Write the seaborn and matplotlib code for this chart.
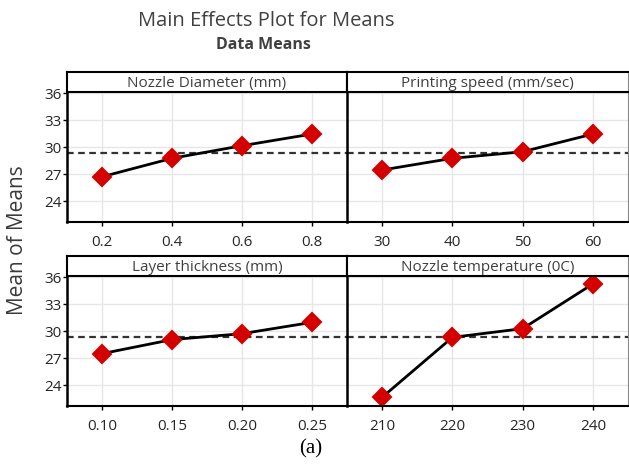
import numpy as np
import pandas as pd
import seaborn as sns
import matplotlib.pyplot as plt

sns.set_style("white")
plt.rcParams['font.family'] = ['Open Sans', 'DejaVu Sans']

# factor levels (tick labels) and mean responses
nozzle_diameter = ['0.2', '0.4', '0.6', '0.8']
nozzle_diameter_means = [26.73, 28.78, 30.18, 31.48]
printing_speed = ['30', '40', '50', '60']
printing_speed_means = [27.48, 28.78, 29.51, 31.48]
layer_thickness = ['0.10', '0.15', '0.20', '0.25']
layer_thickness_means = [27.52, 29.08, 29.74, 31.00]
nozzle_temp = ['210', '220', '230', '240']
nozzle_temp_means = [22.67, 29.33, 30.30, 35.27]
grand_mean = 29.33

titles = ['Nozzle Diameter (mm)', 'Printing speed (mm/sec)',
          'Layer thickness (mm)', 'Nozzle temperature (0C)']
levels = [nozzle_diameter, printing_speed, layer_thickness, nozzle_temp]
means = [nozzle_diameter_means, printing_speed_means,
         layer_thickness_means, nozzle_temp_means]
yticks = [24, 27, 30, 33, 36]

W, H = 629, 466
fig = plt.figure(figsize=(W / 100, H / 100), dpi=100)

def box(x0, y0, x1, y1):
    return [x0 / W, 1 - y1 / H, (x1 - x0) / W, (y1 - y0) / H]

cols = [(67, 347), (347, 628)]
rows = [(72, 92, 222), (256, 276, 406)]
txt = '#404040'

for i in range(4):
    r, c = divmod(i, 2)
    x0, x1 = cols[c]
    s0, p0, p1 = rows[r]
    ax = fig.add_axes(box(x0, p0, x1, p1))
    df = pd.DataFrame({'level': levels[i], 'mean': means[i]})
    ax.axhline(grand_mean, color='#333333', lw=1.6, ls=(0, (3, 2)), zorder=1)
    sns.pointplot(data=df, x='level', y='mean', order=levels[i], ax=ax,
                  color='black', markers='D', errorbar=None,
                  linewidth=2, markersize=9,
                  markerfacecolor='#d40000', markeredgecolor='#d40000')
    for ln in ax.lines:
        ln.set_clip_on(False)
    ax.set_ylim(21.7, 36.15)
    ax.set_xlim(-0.5, 3.5)
    ax.set_yticks(yticks)
    ax.grid(True, color='#e6e6e6', lw=1)
    ax.set_axisbelow(True)
    ax.set_xlabel('')
    ax.set_ylabel('')
    ax.tick_params(axis='x', length=3, width=1, color='black',
                   labelsize=11, pad=6, direction='out', bottom=True)
    if c == 0:
        ax.tick_params(axis='y', length=3, width=1, color='black',
                       labelsize=11, pad=1, direction='out', left=True)
    else:
        ax.tick_params(axis='y', left=False, labelleft=False)
    for side in ['top', 'right', 'left', 'bottom']:
        ax.spines[side].set_visible(False)
    ax.spines['bottom'].set_visible(True)
    ax.spines['bottom'].set_color('black')
    ax.spines['bottom'].set_linewidth(1.5)
    ax.spines['left'].set_visible(True)
    ax.spines['left'].set_color('black')
    ax.spines['left'].set_linewidth(1.8)
    if c == 1:
        ax.spines['right'].set_visible(True)
        ax.spines['right'].set_color('#888888')
        ax.spines['right'].set_linewidth(0.8)

    sx = fig.add_axes(box(x0, s0, x1, p0))
    sx.set_xticks([])
    sx.set_yticks([])
    for side in ['top', 'right', 'left', 'bottom']:
        sx.spines[side].set_color('black')
        sx.spines[side].set_linewidth(1.5)
    if c == 1:
        sx.spines['right'].set_linewidth(0.8)
        sx.spines['right'].set_color('#888888')
    sx.text(0.5, 0.42, titles[i], ha='center', va='center',
            fontsize=11, color=txt, transform=sx.transAxes)

fig.text(266 / W, 1 - 21 / H, 'Main Effects Plot for Means', ha='center',
         va='center', fontsize=14.5, color=txt)
fig.text(263 / W, 1 - 45 / H, 'Data Means', ha='center', va='center',
         fontsize=11.5, fontweight='bold', color=txt)
fig.text(18 / W, 1 - 240 / H, 'Mean of Means', ha='center', va='center',
         rotation=90, fontsize=15, color='#3a3a3a')
fig.text(311 / W, 1 - 449 / H, '(a)', ha='center', va='center',
         fontsize=15, family=['Liberation Serif', 'DejaVu Serif'], color='black')

fig.savefig('out.png', dpi=100)
